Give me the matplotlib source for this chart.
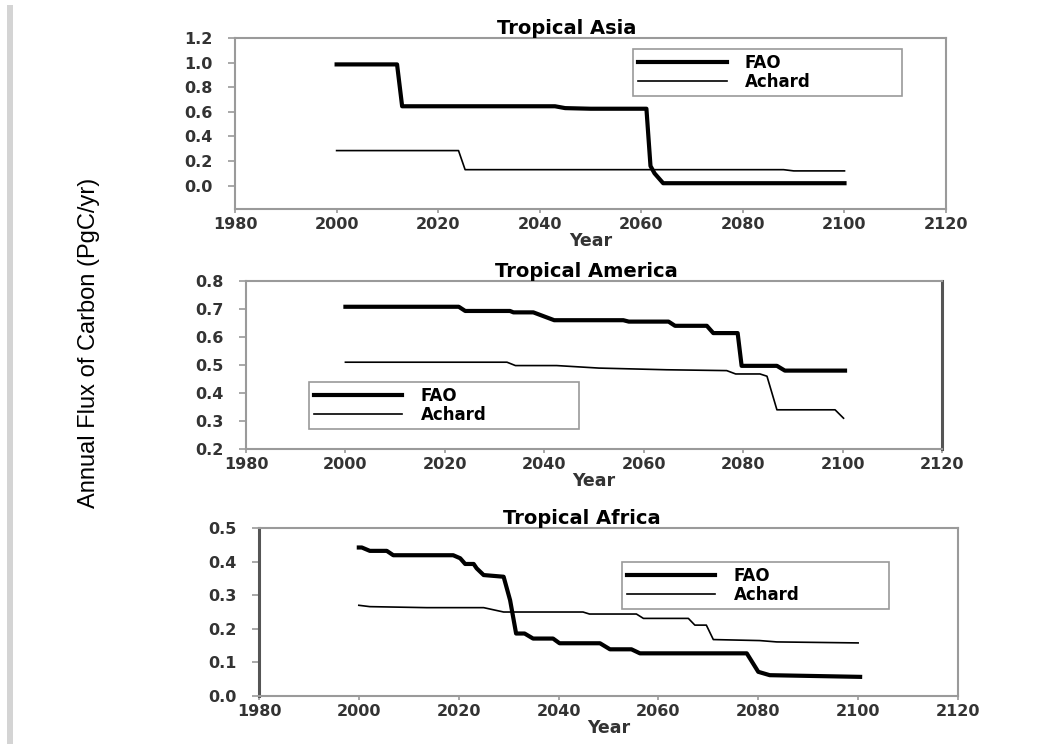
import matplotlib
matplotlib.use("Agg")
import matplotlib.pyplot as plt
from matplotlib import font_manager
from matplotlib.patches import Rectangle

# Tropical Asia
asia_fao_years = [2000, 2011.9, 2012.9, 2043, 2045, 2050, 2061, 2061.8, 2062.6, 2064.3, 2100]
asia_fao_vals = [0.985, 0.985, 0.645, 0.645, 0.63, 0.625, 0.625, 0.16, 0.10, 0.02, 0.02]
asia_ach_years = [2000, 2024, 2025.3, 2088, 2090, 2100]
asia_ach_vals = [0.285, 0.285, 0.13, 0.13, 0.12, 0.12]

# Tropical America
amer_fao_years = [2000, 2022.8, 2024.1, 2033.1, 2033.8, 2037.8, 2042, 2055.9, 2057, 2065, 2066.3,
                  2072.7, 2074, 2078.9, 2079.7, 2086.8, 2088.4, 2100.5]
amer_fao_vals = [0.708, 0.708, 0.693, 0.693, 0.688, 0.688, 0.66, 0.66, 0.655, 0.655, 0.64,
                 0.64, 0.614, 0.614, 0.497, 0.497, 0.48, 0.48]
amer_ach_years = [2000, 2032.5, 2034.2, 2042.5, 2051, 2064.6, 2076.7, 2078.5, 2083.4, 2084.8,
                  2086.8, 2098.5, 2100.2]
amer_ach_vals = [0.51, 0.51, 0.498, 0.498, 0.489, 0.483, 0.48, 0.468, 0.468, 0.46,
                 0.34, 0.34, 0.31]

# Tropical Africa
afr_fao_years = [2000, 2000.6, 2002.2, 2005.6, 2006.9, 2018.9, 2020.3, 2021.3, 2023, 2023.6, 2025,
                 2029, 2030.3, 2031.5, 2033.2, 2034.9, 2038.9, 2040.2, 2048.3, 2050.3, 2054.6, 2056.3,
                 2077.7, 2080, 2082.3, 2100.4]
afr_fao_vals = [0.442, 0.442, 0.432, 0.432, 0.419, 0.419, 0.41, 0.393, 0.393, 0.38, 0.36,
                0.355, 0.285, 0.186, 0.186, 0.171, 0.171, 0.157, 0.157, 0.139, 0.139, 0.127,
                0.127, 0.072, 0.062, 0.057]
afr_ach_years = [2000, 2002.2, 2013.6, 2025, 2029, 2044.9, 2046.2, 2055.6, 2057, 2066, 2067.3,
                 2069.6, 2071, 2080.3, 2083.7, 2100]
afr_ach_vals = [0.27, 0.266, 0.263, 0.263, 0.25, 0.25, 0.244, 0.244, 0.231, 0.231, 0.211,
                0.211, 0.168, 0.165, 0.161, 0.158]

titles = ["Tropical Asia", "Tropical America", "Tropical Africa"]
series_names = ["FAO", "Achard"]
x_ticks = [1980, 2000, 2020, 2040, 2060, 2080, 2100, 2120]

plt.rcParams['font.family'] = ['DejaVu Sans']
fig = plt.figure(figsize=(10.54, 7.44), dpi=100)

# gray strip at the left edge
fig.patches.append(Rectangle((7 / 1054, 0), 6 / 1054, 1 - 5 / 744, transform=fig.transFigure,
                             facecolor="#d4d4d4", edgecolor="none"))

positions = [
    [0.223, 0.719, 0.6746, 0.230],
    [0.2334, 0.3965, 0.6603, 0.2258],
    [0.2457, 0.0645, 0.6632, 0.2258],
]
ylims = [(-0.19, 1.2), (0.2, 0.8), (0.0, 0.5)]
yticks = [
    [0.0, 0.2, 0.4, 0.6, 0.8, 1.0, 1.2],
    [0.2, 0.3, 0.4, 0.5, 0.6, 0.7, 0.8],
    [0.0, 0.1, 0.2, 0.3, 0.4, 0.5],
]
data = [
    (asia_fao_years, asia_fao_vals, asia_ach_years, asia_ach_vals),
    (amer_fao_years, amer_fao_vals, amer_ach_years, amer_ach_vals),
    (afr_fao_years, afr_fao_vals, afr_ach_years, afr_ach_vals),
]
# legend frame boxes in axes fractions (x0, y0, w, h)
legend_boxes = [
    (0.560, 0.661, 0.378, 0.275),
    (0.0905, 0.125, 0.388, 0.274),
    (0.519, 0.530, 0.383, 0.268),
]
title_x = [0.467, 0.489, 0.462]

for i in range(3):
    ax = fig.add_axes(positions[i])
    fy, fv, ay, av = data[i]
    ax.plot(fy, fv, color="black", lw=3.0, label=series_names[0])
    ax.plot(ay, av, color="black", lw=1.2, label=series_names[1])

    ax.set_xlim(1980, 2120)
    ax.set_ylim(*ylims[i])
    ax.set_xticks(x_ticks)
    ax.set_yticks(yticks[i])
    ax.set_yticklabels([f"{t:.1f}" for t in yticks[i]])

    for s in ax.spines.values():
        s.set_color("#9a9a9a")
        s.set_linewidth(1.5)
    if i == 1:
        ax.spines["right"].set_color("#555555")
        ax.spines["right"].set_linewidth(2.2)
    if i == 2:
        ax.spines["left"].set_color("#555555")
        ax.spines["left"].set_linewidth(2.2)

    ax.tick_params(axis="x", direction="out", length=3, width=1.2, color="#9a9a9a",
                   pad=3, labelsize=11.5, labelcolor="#333333")
    ax.tick_params(axis="y", direction="out", length=5, width=1.2, color="#9a9a9a",
                   pad=11, labelsize=11.5, labelcolor="#333333")
    for lab in ax.get_xticklabels() + ax.get_yticklabels():
        lab.set_fontweight("bold")

    ax.set_xlabel("Year", fontsize=12.5, fontweight="bold", color="#333333", labelpad=0)
    ax.set_title(titles[i], fontsize=14, fontweight="bold", pad=3, x=title_x[i])

    leg = ax.legend(loc="upper left", bbox_to_anchor=legend_boxes[i], mode="expand",
                    borderaxespad=0, handlelength=5.3, handletextpad=1.1, labelspacing=0.05,
                    borderpad=0.3, fancybox=False, framealpha=1,
                    prop={"weight": "bold", "size": 12})
    leg.get_frame().set_edgecolor("#9a9a9a")
    leg.get_frame().set_linewidth(1.2)

names = {f.name for f in font_manager.fontManager.ttflist}
if "Liberation Sans Narrow" in names:
    ylab_family, ylab_size = "Liberation Sans Narrow", 20
else:
    ylab_family, ylab_size = "Liberation Sans", 17
fig.text(89 / 1054, 1 - 343 / 744, "Annual Flux of Carbon (PgC/yr)", rotation=90,
         ha="center", va="center", fontsize=ylab_size, family=ylab_family)

fig.savefig("out.png", dpi=100)
